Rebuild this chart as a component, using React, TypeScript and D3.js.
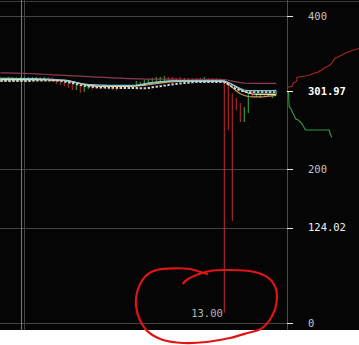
import React from 'react';
import * as d3 from 'd3';

const W = 359;
const H = 345;
const PLOT_BOTTOM = 330;
const AXIS_X = 287;

// Candles (one per period); wick high / low and direction (1 = up, 0 = down)
const candleHigh = [
  320.0, 319.8, 320.4, 320.2, 320.0, 320.4, 320.6, 320.4, 320.6, 320.7,
  320.5, 320.4, 320.2, 319.8, 317.8, 316.5, 313.9, 312.6, 311.3, 310.0,
  310.0, 307.4, 310.0, 308.7, 308.7, 308.7, 310.0, 308.7, 307.4, 306.1,
  308.1, 307.4, 308.7, 310.0, 315.2, 313.9, 316.5, 317.8, 319.1, 320.4,
  320.4, 321.7, 320.4, 320.4, 319.1, 320.4, 319.1, 319.1, 318.5, 319.1,
  319.1, 320.4, 319.1, 318.5, 319.1, 318.5, 312.9, 310.0, 299.2, 293.0,
  286.5, 281.3, 299.6, 300.9, 299.6, 299.6, 300.2, 300.2, 299.6, 302.2,
];
const candleLow = [
  315.5, 315.9, 316.0, 315.6, 315.8, 316.2, 316.0, 315.9, 316.2, 316.5,
  316.1, 315.8, 315.5, 314.8, 311.3, 310.0, 308.7, 306.1, 303.5, 303.5,
  299.6, 300.9, 304.8, 304.1, 304.8, 304.8, 306.1, 305.5, 303.5, 302.8,
  304.8, 304.8, 304.8, 306.1, 308.7, 308.7, 310.0, 312.6, 313.9, 315.2,
  313.9, 315.2, 315.2, 315.9, 315.2, 316.5, 315.2, 314.6, 315.2, 315.2,
  315.9, 316.5, 315.2, 314.6, 315.2, 314.6, 13.0, 251.3, 132.6, 277.4,
  261.8, 261.8, 273.5, 295.6, 294.3, 293.0, 295.6, 295.6, 293.0, 298.3,
];
const candleUp = [
  1, 0, 1, 1, 1, 1, 1, 1, 1, 1,
  0, 1, 0, 0, 0, 0, 0, 0, 0, 1,
  0, 1, 1, 0, 0, 0, 1, 0, 0, 0,
  1, 0, 1, 1, 1, 1, 1, 1, 1, 1,
  1, 1, 0, 0, 0, 0, 1, 0, 1, 0,
  1, 1, 0, 1, 0, 1, 0, 0, 0, 0,
  0, 1, 1, 0, 1, 1, 0, 1, 1, 1,
];

// Moving averages
const maLong = [
  325.9, 325.8, 325.7, 325.5, 325.4, 325.3, 325.1, 325.0, 324.8, 324.5,
  324.2, 324.0, 323.7, 323.3, 323.1, 322.8, 322.5, 322.3, 322.0, 321.8,
  321.5, 321.2, 321.0, 320.7, 320.4, 320.2, 319.9, 319.7, 319.4, 319.1,
  318.9, 318.6, 318.4, 318.2, 318.1, 318.0, 317.8, 317.8, 317.8, 317.7,
  317.7, 317.7, 317.6, 317.6, 317.6, 317.5, 317.5, 317.5, 317.5, 317.4,
  317.4, 317.4, 317.4, 317.3, 317.3, 317.2, 317.0, 316.2, 315.1, 314.1,
  313.2, 312.5, 312.3, 312.2, 312.2, 312.1, 312.1, 312.1, 312.0, 312.0,
];
const maFast = [
  318.7, 318.7, 318.6, 318.6, 318.5, 318.5, 318.4, 318.4, 318.3, 318.2,
  318.1, 317.9, 317.8, 317.4, 317.0, 316.5, 315.8, 315.0, 314.0, 313.0,
  312.0, 311.3, 310.7, 310.4, 310.2, 310.0, 309.9, 309.7, 309.6, 309.5,
  309.4, 309.4, 309.4, 309.6, 310.0, 310.7, 311.5, 312.4, 313.0, 313.5,
  313.9, 314.3, 314.7, 314.9, 315.1, 315.2, 315.3, 315.4, 315.5, 315.5,
  315.6, 315.6, 315.6, 315.6, 315.6, 315.6, 315.2, 313.3, 310.7, 308.1,
  305.5, 303.5, 302.6, 302.8, 302.8, 302.8, 302.8, 302.8, 302.8, 302.9,
];
const maMid = [
  315.2, 315.2, 315.2, 315.2, 315.2, 315.2, 315.2, 315.2, 315.5, 315.9,
  315.9, 315.9, 315.9, 315.9, 315.9, 315.5, 314.6, 313.5, 312.6, 311.3,
  310.0, 309.0, 308.3, 307.7, 307.1, 306.8, 306.6, 306.5, 306.4, 306.3,
  306.2, 306.2, 306.1, 306.1, 306.1, 305.7, 305.7, 306.1, 307.0, 307.7,
  308.4, 309.2, 310.0, 310.7, 311.3, 312.0, 312.6, 313.1, 313.5, 313.9,
  313.9, 313.9, 313.9, 313.9, 313.9, 313.9, 313.5, 310.7, 307.4, 304.8,
  302.8, 301.5, 300.6, 300.6, 300.6, 300.6, 300.6, 300.6, 300.6, 300.6,
];
const maCream = [
  317.2, 317.2, 317.2, 317.2, 317.2, 317.2, 317.2, 317.2, 317.2, 317.2,
  317.2, 317.2, 317.2, 316.5, 316.5, 316.5, 316.5, 315.9, 314.6, 313.3,
  312.0, 310.7, 309.6, 309.0, 308.5, 308.5, 308.5, 308.5, 308.5, 308.5,
  308.5, 308.5, 308.5, 308.7, 309.2, 310.0, 310.9, 312.0, 312.9, 313.7,
  314.2, 314.7, 315.1, 315.5, 315.5, 315.5, 315.5, 315.5, 315.5, 315.5,
  315.5, 315.5, 315.5, 315.5, 315.5, 315.5, 315.2, 313.3, 310.7, 307.4,
  304.1, 301.5, 299.6, 298.3, 297.9, 297.9, 297.9, 297.9, 297.9, 297.9,
];
const maOrange = [
  316.5, 316.5, 316.5, 316.5, 316.5, 316.5, 316.5, 316.5, 316.5, 316.5,
  316.5, 316.5, 316.5, 315.9, 315.9, 315.9, 315.9, 315.2, 314.2, 313.1,
  312.1, 310.9, 310.0, 309.2, 308.7, 308.1, 308.1, 308.1, 308.1, 308.1,
  308.1, 308.1, 308.1, 308.2, 308.5, 309.0, 309.6, 310.3, 311.1, 311.8,
  312.5, 313.1, 313.7, 314.1, 314.5, 314.8, 314.8, 314.8, 314.8, 314.8,
  314.8, 314.8, 314.8, 314.8, 314.8, 314.8, 314.2, 311.3, 307.0, 302.2,
  298.5, 296.3, 295.0, 294.6, 294.6, 294.6, 294.9, 295.4, 295.9, 296.5,
];

// Order book depth (cumulative volume against price)
const askVolume = [3, 10, 50, 65, 95, 100, 180, 230, 265, 300, 325, 350, 365, 400, 415, 430, 450, 465, 480, 515, 550, 580, 620, 665, 720];
const askPrice = [302.2, 307.4, 308.1, 313.0, 314.6, 320.1, 321.8, 323.1, 325.3, 326.1, 328.3, 329.6, 331.8, 333.9, 335.2, 336.1, 338.7, 342.6, 344.8, 346.9, 349.1, 351.3, 353.4, 355.7, 357.6];
const bidVolume = [13, 15, 22, 37, 63, 90, 113, 130, 147, 163, 180, 190, 423, 430, 447];
const bidPrice = [301.5, 300.0, 281.7, 279.6, 272.2, 265.3, 264.4, 262.1, 260.0, 256.5, 252.2, 251.3, 251.3, 247.0, 241.8];

// Price axis
const priceTicks = [400, 200, 124.02, 0];
const tickLabels = ['400', '200', '124.02', '0'];
const lastPrice = 301.97;
const lowPrice = 13.0;
const lowIndex = 56;
const timeGuides = [5.1, 6.0];

// Hand-drawn highlight around the low, in (candle index, price)
const markIndex = [45.75, 46.6, 49.5, 52.4, 57.4, 63.25, 66.6, 68.7, 69.1, 67.85, 65.35, 61.6, 57.4, 51.6, 45.7, 40.7, 36.9, 34.9, 33.9, 34.5, 36.6, 39.1, 43.25, 47.4, 49.9, 51.7];
const markPrice = [51.4, 55.7, 63.1, 67.4, 68.7, 66.5, 60.0, 47.0, 27.4, 7.8, -7.3, -13.8, -20.0, -25.2, -26.5, -22.6, -11.7, 3.5, 23.1, 44.9, 62.2, 68.7, 70.9, 70.0, 66.5, 63.5];

const MONO = '"DejaVu Sans Mono", "Liberation Mono", monospace';

export default function App() {
  const x = d3.scaleLinear().domain([0, 69]).range([0.3, 276.3]);
  const y = d3.scaleLinear().domain([0, 400]).range([322.7, 16]);
  const depthX = d3.scaleLinear().domain([0, 720]).range([AXIS_X, 359]);

  const maLine = d3
    .line<number>()
    .x((_, i) => x(i))
    .y((d) => y(d));

  const askLine = d3
    .line<number>()
    .x((_, i) => depthX(askVolume[i]))
    .y((d) => y(d));
  const bidLine = d3
    .line<number>()
    .x((_, i) => depthX(bidVolume[i]))
    .y((d) => y(d));

  const markLine = d3
    .line<number>()
    .x((_, i) => x(markIndex[i]))
    .y((d) => y(d))
    .curve(d3.curveCatmullRom.alpha(0.5));

  const series = [
    { data: maLong, color: '#8c3c52', width: 1.2, dash: undefined },
    { data: maOrange, color: '#d39a5c', width: 1.2, dash: undefined },
    { data: maCream, color: '#e4e2a8', width: 1.2, dash: undefined },
    { data: maFast, color: '#80c8d8', width: 1.2, dash: undefined },
    { data: maMid, color: '#cfcfcf', width: 2, dash: '2.4 1.6' },
  ];

  return (
    <svg
      width={W}
      height={H}
      style={{ position: 'absolute', left: 0, top: 0, display: 'block', background: '#ffffff' }}
    >
      <rect x={0} y={0} width={W} height={PLOT_BOTTOM} fill="#050505" />

      {/* grid */}
      <g shapeRendering="crispEdges">
        <line x1={0} x2={W} y1={1.5} y2={1.5} stroke="#3a3a3a" />
        {priceTicks.map((t) => (
          <line key={t} x1={0} x2={AXIS_X} y1={Math.round(y(t)) + 0.5} y2={Math.round(y(t)) + 0.5} stroke="#444" />
        ))}
        {timeGuides.map((g, k) => (
          <line
            key={g}
            x1={Math.round(x(g)) + 0.5}
            x2={Math.round(x(g)) + 0.5}
            y1={0}
            y2={PLOT_BOTTOM}
            stroke={k === 0 ? '#7a7a7a' : '#444'}
          />
        ))}
        <line x1={AXIS_X + 0.5} x2={AXIS_X + 0.5} y1={0} y2={PLOT_BOTTOM} stroke="#4a4a4a" />
      </g>

      {/* candles */}
      <g>
        {candleHigh.map((h, i) => (
          <line
            key={i}
            x1={x(i)}
            x2={x(i)}
            y1={y(h)}
            y2={y(candleLow[i])}
            stroke={candleUp[i] ? '#35a548' : '#b9262c'}
            strokeWidth={1.1}
          />
        ))}
      </g>

      {/* moving averages */}
      <g fill="none">
        {series.map((s, k) => (
          <path key={k} d={maLine(s.data) || ''} stroke={s.color} strokeWidth={s.width} strokeDasharray={s.dash} />
        ))}
      </g>

      {/* depth */}
      <path d={askLine(askPrice) || ''} fill="none" stroke="#a8242a" strokeWidth={1.1} />
      <path d={bidLine(bidPrice) || ''} fill="none" stroke="#2fa03c" strokeWidth={1.1} />

      {/* axis ticks and labels */}
      <g shapeRendering="crispEdges">
        {priceTicks.map((t) => (
          <line key={t} x1={AXIS_X} x2={AXIS_X + 6} y1={Math.round(y(t)) + 0.5} y2={Math.round(y(t)) + 0.5} stroke="#e8e8e8" />
        ))}
        <line x1={AXIS_X} x2={AXIS_X + 6} y1={Math.round(y(lastPrice)) + 0.5} y2={Math.round(y(lastPrice)) + 0.5} stroke="#ffffff" />
      </g>
      <g fontFamily={MONO} fontSize={10.5}>
        {priceTicks.map((t, k) => (
          <text
            key={t}
            x={308}
            y={y(t) + 3.8}
            fill={t === 124.02 ? '#f2f2f2' : '#c4c4c4'}
          >
            {tickLabels[k]}
          </text>
        ))}
        <text x={308} y={y(lastPrice) + 3.8} fill="#ffffff" fontWeight="bold">
          {lastPrice.toFixed(2)}
        </text>
        <text x={x(lowIndex) - 1.5} y={y(lowPrice) + 3.8} fill="#b4b4b4" textAnchor="end">
          {lowPrice.toFixed(2)}
        </text>
      </g>

      {/* highlight loop */}
      <path d={markLine(markPrice) || ''} fill="none" stroke="#e01414" strokeWidth={2.2} strokeLinecap="round" strokeLinejoin="round" />
    </svg>
  );
}
